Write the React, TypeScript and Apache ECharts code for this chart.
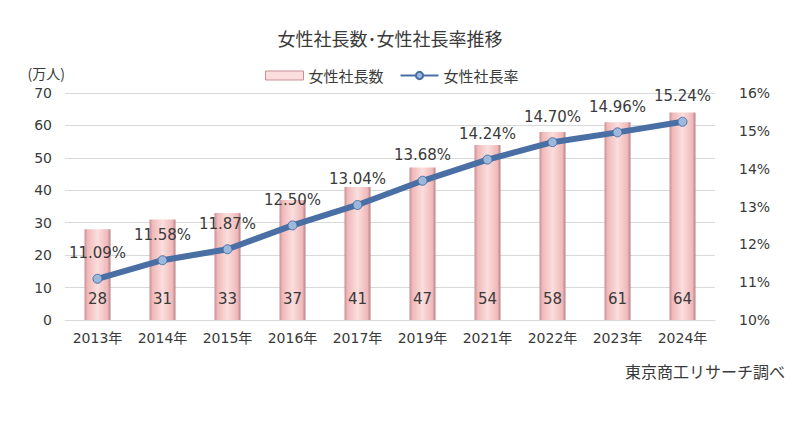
import React, { useEffect, useRef } from "react";
import * as echarts from "echarts";

const years = ["2013年", "2014年", "2015年", "2016年", "2017年", "2019年", "2021年", "2022年", "2023年", "2024年"];
const presidents = [28, 31, 33, 37, 41, 47, 54, 58, 61, 64];
const rates = [11.09, 11.58, 11.87, 12.5, 13.04, 13.68, 14.24, 14.7, 14.96, 15.24];
const leftTicks = { min: 0, max: 70, interval: 10 };
const rightTicks = { min: 10, max: 16, interval: 1 };

const FONT = "'DejaVu Sans', 'Noto Sans CJK JP', sans-serif";
const CJK = "'Noto Sans CJK JP', sans-serif";

export default function App() {
  const ref = useRef<HTMLDivElement>(null);
  useEffect(() => {
    document.body.style.margin = "0";
    const chart = echarts.init(ref.current!, null, { renderer: "svg" });
    const barGrad = new echarts.graphic.LinearGradient(0, 0, 1, 0, [
      { offset: 0, color: "#c98f93" },
      { offset: 0.12, color: "#f0b9ba" },
      { offset: 0.5, color: "#fbdedd" },
      { offset: 0.88, color: "#f0b9ba" },
      { offset: 1, color: "#b98085" },
    ]);
    chart.setOption({
      animation: false,
      backgroundColor: "#ffffff",
      textStyle: { fontFamily: FONT },
      title: {
        text: "女性社長数･女性社長率推移",
        left: 385,
        textAlign: "center",
        top: 24,
        textStyle: { fontSize: 18, fontWeight: "normal", color: "#3a3a3a", fontFamily: CJK },
      },
      legend: {
        top: 63,
        left: 260,
        itemGap: 16,
        itemWidth: 38,
        itemHeight: 9,
        textStyle: { fontSize: 15, color: "#3a3a3a", fontFamily: CJK },
        data: [
          { name: "女性社長数", icon: "rect", itemStyle: { color: "#fbdedd", borderColor: "#c98f93", borderWidth: 1 } },
          { name: "女性社長率" },
        ],
      },
      grid: { left: 65, right: 85, top: 93, bottom: 111 },
      xAxis: {
        type: "category",
        data: years,
        axisTick: { show: false },
        axisLine: { lineStyle: { color: "#d9d9d9" } },
        axisLabel: { color: "#3a3a3a", fontSize: 14, margin: 11, fontFamily: FONT },
      },
      yAxis: [
        {
          type: "value",
          ...leftTicks,
          name: "(万人)",
          nameLocation: "end",
          nameGap: 13,
          nameTextStyle: { color: "#3a3a3a", fontSize: 14, align: "right", padding: [0, 0, 0, 0], fontFamily: CJK },
          axisLabel: { color: "#3a3a3a", fontSize: 14, margin: 13, fontFamily: FONT },
          splitLine: { lineStyle: { color: "#d9d9d9" } },
          axisLine: { show: false },
          axisTick: { show: false },
        },
        {
          type: "value",
          ...rightTicks,
          position: "right",
          axisLabel: { color: "#3a3a3a", fontSize: 14, margin: 24, formatter: "{value}%", fontFamily: FONT },
          splitLine: { show: false },
          axisLine: { show: false },
          axisTick: { show: false },
        },
      ],
      series: [
        {
          name: "女性社長数",
          type: "bar",
          data: presidents,
          barWidth: "40%",
          itemStyle: { color: barGrad },
          label: {
            show: true,
            position: "insideBottom",
            distance: 14,
            color: "#3a3a3a",
            fontSize: 15,
            fontFamily: FONT,
          },
        },
        {
          name: "女性社長率",
          type: "line",
          yAxisIndex: 1,
          data: rates,
          symbol: "circle",
          symbolSize: 9,
          lineStyle: { color: "#4a6fa5", width: 6 },
          itemStyle: { color: "#9cb8dc", borderColor: "#4a6fa5", borderWidth: 1 },
          label: {
            show: true,
            position: "top",
            distance: 13,
            color: "#3a3a3a",
            fontSize: 15,
            formatter: (p: any) => p.value.toFixed(2) + "%",
            fontFamily: FONT,
          },
          z: 5,
        },
      ],
      graphic: [
        {
          type: "text",
          right: 15,
          top: 363,
          style: { text: "東京商工リサーチ調べ", fontSize: 16, fill: "#3a3a3a", fontFamily: CJK },
        },
      ],
    });
    return () => chart.dispose();
  }, []);
  return <div ref={ref} style={{ width: 800, height: 431 }} />;
}
